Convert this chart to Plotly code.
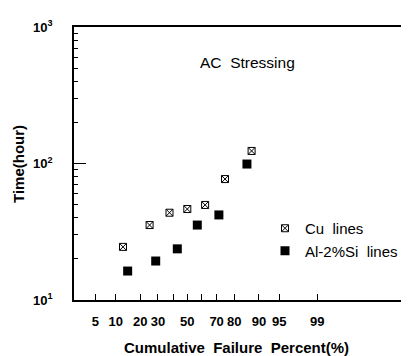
from statistics import NormalDist
import plotly.graph_objects as go

# ---- data ----
cu_percent = [12.5, 25.0, 37.5, 50.0, 62.5, 75.0, 87.5]
cu_time = [24.5, 35.4, 43.6, 46.4, 49.7, 76.9, 123.6]

al_percent = [14.3, 28.6, 42.9, 57.1, 71.4, 85.7]
al_time = [16.3, 19.3, 23.7, 35.4, 42.0, 99.1]

x_label_percent = [5, 10, 20, 30, 50, 70, 80, 90, 95, 99]
x_label_text = ["5", "10", "20", "30", "50", "70", "80", "90", "95", "99"]
x_unlabeled_percent = [40, 60]
y_tick_vals = [10, 100, 1000]
y_tick_text = ["10<sup>1</sup>", "10<sup>2</sup>", "10<sup>3</sup>"]
y_minor_vals = [m * d for d in (10, 100) for m in range(2, 10)]

series_names = ["Cu\u00a0 lines", "Al-2%Si\u00a0 lines"]

# normal-probability scale transform
nd = NormalDist()
def prob(p):
    return nd.inv_cdf(p / 100.0)

FONT = "Liberation Sans, Arial, Helvetica, sans-serif"

fig = go.Figure()
fig.add_trace(go.Scatter(
    x=[prob(p) for p in cu_percent], y=cu_time, mode="markers", name=series_names[0],
    marker=dict(symbol="square-x-open", size=7, color="black", line=dict(width=1, color="black")),
))
fig.add_trace(go.Scatter(
    x=[prob(p) for p in al_percent], y=al_time, mode="markers", name=series_names[1],
    marker=dict(symbol="square", size=9, color="black", line=dict(width=0)),
))

# page body has an 8px margin: work in window pixels, convert to figure pixels
OFF = 8
WIN_W, WIN_H = 409, 356
W, H = WIN_W - OFF, WIN_H - OFF
PL, PR, PT, PB = 74, 409, 27, 300          # plot box in window pixels
L, T = PL - OFF, PT - OFF
R = W - (PR - OFF)
B = H - (PB - OFF)
pw, ph = PR - PL, PB - PT

def px(xp):
    return (xp - PL) / pw
def py(yp):
    return (PB - yp) / ph

fig.update_layout(
    width=W, height=H,
    margin=dict(l=L, r=R, t=T, b=B, pad=0),
    paper_bgcolor="white", plot_bgcolor="white",
    font=dict(family=FONT, color="black"),
    showlegend=True,
    legend=dict(
        x=px(265), y=py(239.5), xanchor="left", yanchor="middle",
        bgcolor="rgba(0,0,0,0)", font=dict(size=15, family=FONT, color="black"),
        itemwidth=30, tracegroupgap=0,
    ),
    xaxis=dict(
        range=[(PL - 187.3) / 55.9, (PR - 187.3) / 55.9],
        tickvals=[prob(p) for p in x_label_percent], ticktext=x_label_text,
        ticks="inside", ticklen=6, tickwidth=1, tickcolor="black",
        minor=dict(tickvals=[prob(p) for p in x_unlabeled_percent], ticks="inside",
                   ticklen=6, tickwidth=1, tickcolor="black", showgrid=False),
        showline=True, linecolor="black", linewidth=2, mirror=True,
        showgrid=False, zeroline=False,
        tickfont=dict(size=13, family=FONT, weight="bold"),
        ticklabelstandoff=8,
    ),
    yaxis=dict(
        type="log", range=[1, 3],
        tickvals=y_tick_vals, ticktext=y_tick_text,
        ticks="inside", ticklen=12, tickwidth=1, tickcolor="black",
        minor=dict(tickvals=y_minor_vals, ticks="inside", ticklen=4, tickwidth=1,
                   tickcolor="black", showgrid=False),
        showline=True, linecolor="black", linewidth=1.5,
        showgrid=False, zeroline=False,
        tickfont=dict(size=13, family=FONT, weight="bold"),
        ticklabelstandoff=17,
    ),
    annotations=[
        dict(text="AC\u00a0 Stressing", x=px(247.5), y=py(63), xref="paper", yref="paper",
             showarrow=False, font=dict(size=15.5, family=FONT), xanchor="center", yanchor="middle"),
        dict(text="<b>Time(hour)</b>", x=px(18), y=py(164), xref="paper", yref="paper",
             showarrow=False, textangle=-90, font=dict(size=15, family=FONT),
             xanchor="center", yanchor="middle"),
        dict(text="<b>Cumulative\u00a0 Failure\u00a0 Percent(%)</b>", x=px(236.5), y=py(347),
             xref="paper", yref="paper", showarrow=False, font=dict(size=15, family=FONT),
             xanchor="center", yanchor="middle"),
    ],
)

fig.write_html("out.html")
